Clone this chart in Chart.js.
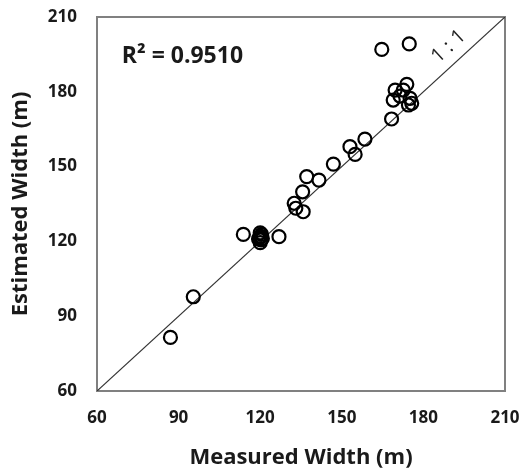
<!DOCTYPE html>
<html>
<head>
<meta charset="utf-8">
<script src="https://cdn.jsdelivr.net/npm/chart.js@4/dist/chart.umd.min.js"></script>
<style>
  html, body { margin: 0; padding: 0; background: #ffffff; }
  #wrap { width: 523px; height: 474px; position: relative; }
</style>
</head>
<body>
<div id="wrap"><canvas id="c" width="523" height="474"></canvas></div>
<script>
// Measured (x) and estimated (y) widths, in metres
const measured = [87, 95.4, 113.8, 120, 120, 120.3, 120.3, 119.8, 120.5, 119.4, 120.8, 126.9,
  132.5, 133.1, 135.8, 135.6, 137.1, 141.6, 146.9, 153, 154.9, 158.5,
  168.3, 164.7, 174.8, 169.6, 173.9, 172.6, 168.9, 171.4, 175.1, 175.7, 174.5];
const estimated = [81.5, 97.8, 122.8, 123.4, 119.5, 122, 120.6, 121.5, 122.8, 121, 121.2, 121.9,
  135.3, 133.3, 131.9, 139.9, 146, 144.6, 151, 158, 154.9, 161,
  169.1, 197, 199.2, 180.7, 183, 180.7, 176.7, 178.3, 177.4, 175.4, 174.7];
// 1:1 reference line
const oneToOneX = [60, 210];
const oneToOneY = [60, 210];
// Axis ticks
const tickValues = [60, 90, 120, 150, 180, 210];
const r2Label = 'R² = 0.9510';
const lineLabel = '1 : 1';

Chart.defaults.font.family = "'Open Sans', 'DejaVu Sans', sans-serif";
Chart.defaults.color = '#1a1a1a';

const points = measured.map((x, i) => ({ x: x, y: estimated[i] }));
const linePts = oneToOneX.map((x, i) => ({ x: x, y: oneToOneY[i] }));

const decor = {
  id: 'decor',
  beforeDatasetsDraw(chart) {
    const { ctx, chartArea: a } = chart;
    ctx.save();
    ctx.strokeStyle = '#808080';
    ctx.lineWidth = 2;
    ctx.strokeRect(a.left, a.top, a.right - a.left, a.bottom - a.top);
    ctx.restore();
  },
  afterDatasetsDraw(chart) {
    const { ctx, scales: { x, y } } = chart;
    ctx.save();
    ctx.fillStyle = '#1a1a1a';
    ctx.font = "bold 23px 'Open Sans', sans-serif";
    ctx.textAlign = 'left';
    ctx.textBaseline = 'alphabetic';
    ctx.fillText(r2Label, x.getPixelForValue(69.1), y.getPixelForValue(191.6));
    // 1:1 label rotated along the reference line
    const px = x.getPixelForValue(189.3), py = y.getPixelForValue(198.2);
    const ang = Math.atan2(y.getPixelForValue(210) - y.getPixelForValue(60),
                           x.getPixelForValue(210) - x.getPixelForValue(60));
    ctx.translate(px, py);
    ctx.rotate(ang);
    ctx.font = "20px 'Open Sans', sans-serif";
    ctx.textAlign = 'center';
    ctx.textBaseline = 'middle';
    ctx.fillStyle = '#1f1f1f';
    ctx.fillText(lineLabel, 0, 0);
    ctx.restore();
  }
};

new Chart(document.getElementById('c'), {
  type: 'scatter',
  data: {
    datasets: [
      {
        type: 'line',
        data: linePts,
        borderColor: '#333333',
        borderWidth: 1.2,
        pointRadius: 0,
        fill: false,
        order: 2
      },
      {
        data: points,
        pointRadius: 6.5,
        pointBorderWidth: 2.2,
        pointBorderColor: '#000000',
        pointBackgroundColor: 'rgba(0,0,0,0)',
        order: 1
      }
    ]
  },
  options: {
    responsive: false,
    animation: false,
    layout: { padding: { top: 17, right: 18, bottom: 0, left: 0 } },
    plugins: { legend: { display: false }, tooltip: { enabled: false } },
    scales: {
      x: {
        type: 'linear',
        min: 60, max: 210,
        afterBuildTicks(s) { s.ticks = tickValues.map(v => ({ value: v })); },
        afterFit(s) { s.height = 83; s.paddingLeft = 0; s.paddingRight = 0; },
        grid: { display: false, drawTicks: false },
        border: { display: false },
        ticks: { padding: 17, font: { size: 17, weight: 'bold' }, color: '#1a1a1a', maxRotation: 0 },
        title: { display: true, text: 'Measured Width (m)', font: { size: 22, weight: 'bold' }, color: '#1a1a1a', padding: { top: 0, bottom: 3 } }
      },
      y: {
        type: 'linear',
        min: 60, max: 210,
        afterBuildTicks(s) { s.ticks = tickValues.map(v => ({ value: v })); },
        afterFit(s) { s.width = 97; s.paddingTop = 0; s.paddingBottom = 0; },
        grid: { display: false, drawTicks: false },
        border: { display: false },
        ticks: { padding: 20, font: { size: 17, weight: 'bold' }, color: '#1a1a1a' },
        title: { display: true, text: 'Estimated Width (m)', font: { size: 22, weight: 'bold' }, color: '#1a1a1a', padding: { top: 8, bottom: 0 } }
      }
    }
  },
  plugins: [decor]
});
</script>
</body>
</html>
